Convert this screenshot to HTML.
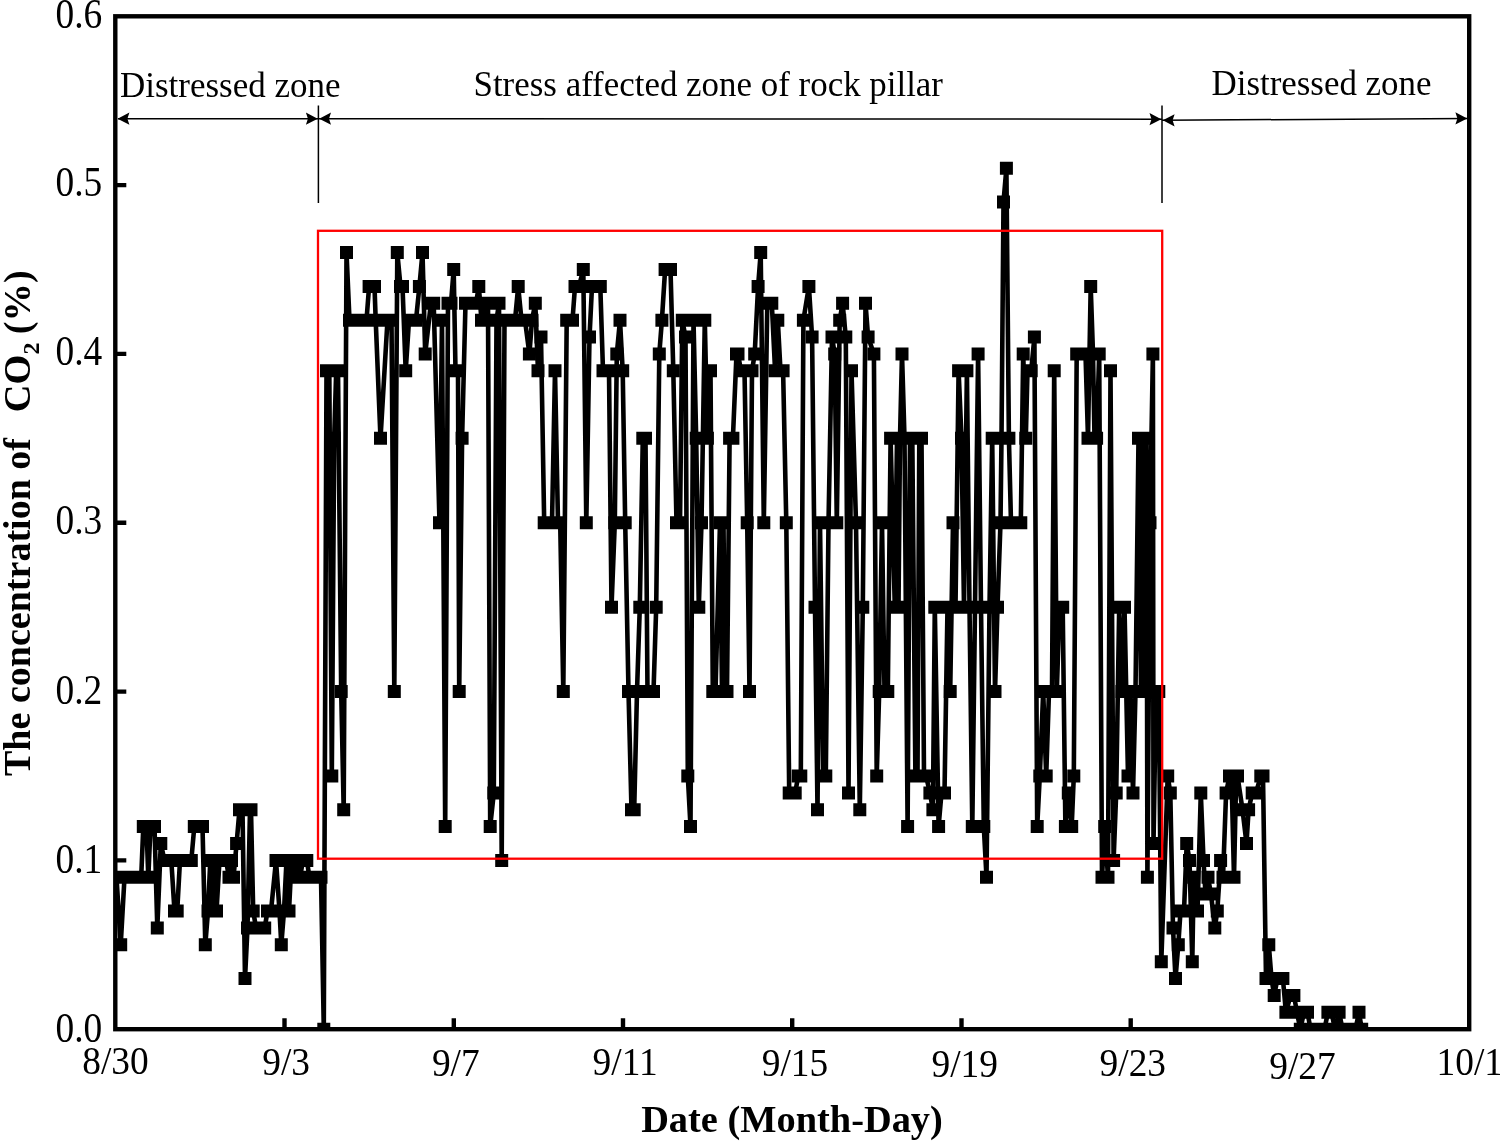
<!DOCTYPE html>
<html lang="en"><head><meta charset="utf-8"><title>CO2 concentration chart</title>
<style>html,body{margin:0;padding:0;background:#fff}svg{display:block}</style></head>
<body>
<svg width="1500" height="1141" viewBox="0 0 1500 1141">
<rect width="1500" height="1141" fill="#fff"/>
<clipPath id="c"><rect x="115.3" y="16.3" width="1353.9" height="1012.9"/></clipPath>
<g clip-path="url(#c)">
<path d="M116.5 877.3 L120.7 944.8 L124.5 877.3 L128.0 877.3 L131.5 877.3 L135.0 877.3 L138.5 877.3 L141.2 877.3 L143.3 826.6 L146.5 826.6 L148.3 877.3 L150.5 826.6 L154.5 826.6 L157.3 927.9 L160.8 843.5 L164.5 860.4 L168.0 860.4 L171.3 860.4 L174.5 911.0 L177.2 911.0 L180.0 860.4 L184.0 860.4 L188.0 860.4 L191.3 860.4 L194.3 826.6 L198.5 826.6 L202.5 826.6 L205.3 944.8 L208.0 911.0 L210.3 860.4 L212.5 911.0 L214.5 860.4 L216.5 911.0 L219.5 860.4 L223.0 860.4 L226.0 860.4 L229.0 877.3 L231.5 860.4 L233.5 877.3 L236.6 843.5 L239.5 809.7 L242.5 809.7 L245.0 978.6 L247.5 927.9 L250.0 809.7 L251.0 809.7 L253.2 911.0 L256.0 927.9 L259.0 927.9 L262.0 927.9 L264.7 927.9 L267.5 911.0 L271.0 911.0 L276.0 860.4 L279.5 911.0 L281.3 944.8 L284.0 911.0 L286.5 860.4 L289.0 911.0 L291.5 860.4 L294.0 877.3 L297.0 860.4 L300.0 877.3 L303.0 860.4 L306.8 860.4 L309.5 877.3 L313.0 877.3 L317.0 877.3 L321.0 877.3 L323.8 1029.2 L326.5 370.8 L329.3 370.8 L331.8 776.0 L334.2 438.3 L336.2 370.8 L338.0 370.8 L341.2 691.6 L343.7 809.7 L346.5 252.6 L349.5 320.2 L353.0 320.2 L356.5 320.2 L360.0 320.2 L363.5 320.2 L366.5 320.2 L369.1 286.4 L374.5 286.4 L375.7 320.2 L380.5 438.3 L387.5 320.2 L391.5 320.2 L394.3 691.6 L397.3 252.6 L400.5 286.4 L402.5 286.4 L405.7 370.8 L409.0 320.2 L412.5 320.2 L416.0 320.2 L419.4 286.4 L422.5 252.6 L425.2 353.9 L430.9 303.3 L433.7 303.3 L439.5 522.8 L442.0 320.2 L445.2 826.6 L448.0 303.3 L451.0 303.3 L453.7 269.5 L455.5 370.8 L458.0 370.8 L459.2 691.6 L462.1 438.3 L465.5 303.3 L469.0 303.3 L472.5 303.3 L476.0 303.3 L478.8 286.4 L481.5 320.2 L484.0 303.3 L486.0 320.2 L488.0 303.3 L490.2 826.6 L493.8 792.9 L496.5 320.2 L499.0 303.3 L501.7 860.4 L504.5 320.2 L508.0 320.2 L511.5 320.2 L515.0 320.2 L518.2 286.4 L521.5 320.2 L525.0 320.2 L529.4 353.9 L532.0 320.2 L535.3 303.3 L538.0 370.8 L541.0 337.1 L544.2 522.8 L548.0 522.8 L552.0 522.8 L555.0 370.8 L558.0 522.8 L560.2 522.8 L563.3 691.6 L566.7 320.2 L570.0 320.2 L572.5 320.2 L575.0 286.4 L579.0 286.4 L583.3 269.5 L586.3 522.8 L589.5 337.1 L592.0 286.4 L596.0 286.4 L600.3 286.4 L603.0 370.8 L606.0 370.8 L609.0 370.8 L611.5 607.2 L614.8 522.8 L616.8 353.9 L620.0 320.2 L622.7 370.8 L625.2 522.8 L628.5 691.6 L631.5 809.7 L634.2 809.7 L637.0 691.6 L639.8 607.2 L642.8 438.3 L645.5 438.3 L647.5 691.6 L650.5 691.6 L653.5 691.6 L656.2 607.2 L659.3 353.9 L661.9 320.2 L665.1 269.5 L670.5 269.5 L673.3 370.8 L676.5 522.8 L680.0 522.8 L682.3 320.2 L685.5 337.1 L687.8 776.0 L690.5 826.6 L693.5 320.2 L696.2 438.3 L698.8 607.2 L701.5 522.8 L704.8 320.2 L707.4 438.3 L710.5 370.8 L712.8 691.6 L715.5 691.6 L720.0 522.8 L722.0 691.6 L723.5 522.8 L725.0 691.6 L727.0 691.6 L729.6 438.3 L732.9 438.3 L736.5 353.9 L738.0 353.9 L741.0 370.8 L744.5 370.8 L747.2 522.8 L749.5 691.6 L752.0 370.8 L754.7 353.9 L758.1 286.4 L760.7 252.6 L763.8 522.8 L767.3 303.3 L771.8 303.3 L775.1 370.8 L777.8 320.2 L780.5 370.8 L783.1 370.8 L786.3 522.8 L789.2 792.9 L792.0 792.9 L795.2 792.9 L798.2 776.0 L800.8 776.0 L803.4 320.2 L808.9 286.4 L812.1 337.1 L815.0 607.2 L817.5 809.7 L820.0 522.8 L823.2 776.0 L825.8 776.0 L828.5 522.8 L832.0 337.1 L834.7 353.9 L836.8 522.8 L839.7 320.2 L842.6 303.3 L845.8 337.1 L848.5 792.9 L851.5 370.8 L856.0 522.8 L859.8 809.7 L862.8 607.2 L865.5 303.3 L868.1 337.1 L873.9 353.9 L876.7 776.0 L879.2 691.6 L882.0 522.8 L884.5 691.6 L887.8 691.6 L890.6 438.3 L894.8 607.2 L897.0 438.3 L898.5 607.2 L900.0 438.3 L902.0 353.9 L904.5 438.3 L907.6 826.6 L910.0 438.3 L912.3 438.3 L915.4 776.0 L917.5 776.0 L919.3 438.3 L921.5 438.3 L924.0 776.0 L926.1 776.0 L929.9 792.9 L932.9 809.7 L934.8 607.2 L938.6 826.6 L941.5 792.9 L944.5 792.9 L947.5 607.2 L950.2 691.6 L953.0 522.8 L955.5 607.2 L958.6 370.8 L961.5 438.3 L964.0 607.2 L966.9 370.8 L969.5 607.2 L972.3 826.6 L975.0 607.2 L978.1 353.9 L981.0 607.2 L983.8 826.6 L986.5 877.3 L989.5 607.2 L992.2 438.3 L995.0 691.6 L997.5 607.2 L1000.5 522.8 L1001.5 438.3 L1003.5 202.0 L1006.4 168.2 L1008.9 438.3 L1011.0 522.8 L1014.0 522.8 L1017.0 522.8 L1020.8 522.8 L1023.2 353.9 L1025.8 438.3 L1027.5 370.8 L1031.2 370.8 L1034.4 337.1 L1037.2 826.6 L1039.8 776.0 L1043.2 691.6 L1046.2 776.0 L1049.0 691.6 L1052.0 691.6 L1054.2 370.8 L1056.8 691.6 L1059.5 607.2 L1062.7 607.2 L1065.4 826.6 L1068.3 792.9 L1071.7 826.6 L1073.8 776.0 L1076.7 353.9 L1080.0 353.9 L1083.0 353.9 L1085.5 353.9 L1088.0 438.3 L1090.7 286.4 L1093.0 353.9 L1094.5 438.3 L1096.6 438.3 L1099.2 353.9 L1102.0 877.3 L1104.7 826.6 L1108.0 877.3 L1110.5 370.8 L1113.6 860.4 L1116.2 792.9 L1119.2 607.2 L1122.0 691.6 L1124.5 607.2 L1128.0 776.0 L1130.5 691.6 L1133.0 792.9 L1135.5 691.6 L1138.5 438.3 L1141.0 691.6 L1143.0 438.3 L1145.0 691.6 L1146.6 438.3 L1147.4 877.3 L1150.0 522.8 L1152.9 353.9 L1153.5 843.5 L1156.0 691.6 L1158.8 691.6 L1161.3 961.7 L1167.7 776.0 L1170.3 792.9 L1173.0 927.9 L1175.5 978.6 L1178.3 944.8 L1180.5 911.0 L1184.0 911.0 L1186.7 843.5 L1189.5 860.4 L1192.3 961.7 L1193.7 877.3 L1197.5 911.0 L1200.8 792.9 L1203.5 860.4 L1205.5 894.1 L1208.0 877.3 L1211.0 894.1 L1214.8 927.9 L1217.3 911.0 L1220.6 860.4 L1223.0 877.3 L1226.1 792.9 L1229.5 776.0 L1231.5 776.0 L1234.0 877.3 L1236.2 776.0 L1237.5 776.0 L1242.5 809.7 L1246.5 843.5 L1248.6 809.7 L1252.2 792.9 L1256.0 792.9 L1260.8 776.0 L1263.0 776.0 L1266.0 978.6 L1268.8 944.8 L1271.5 978.6 L1274.2 995.4 L1277.5 978.6 L1282.9 978.6 L1285.9 1012.3 L1290.6 995.4 L1293.9 995.4 L1297.0 1012.3 L1300.3 1029.2 L1304.0 1012.3 L1307.5 1012.3 L1310.5 1029.2 L1315.0 1029.2 L1320.0 1029.2 L1324.5 1029.2 L1327.9 1012.3 L1331.5 1012.3 L1335.0 1029.2 L1339.1 1012.3 L1342.5 1029.2 L1347.0 1029.2 L1351.5 1029.2 L1355.5 1029.2 L1359.0 1012.3 L1361.7 1029.2" fill="none" stroke="#000" stroke-width="4.6" stroke-linejoin="round"/>
<path d="M110.0 870.8h13v13h-13zM114.2 938.3h13v13h-13zM118.0 870.8h13v13h-13zM121.5 870.8h13v13h-13zM125.0 870.8h13v13h-13zM128.5 870.8h13v13h-13zM132.0 870.8h13v13h-13zM134.7 870.8h13v13h-13zM136.8 820.1h13v13h-13zM140.0 820.1h13v13h-13zM141.8 870.8h13v13h-13zM144.0 820.1h13v13h-13zM148.0 820.1h13v13h-13zM150.8 921.4h13v13h-13zM154.3 837.0h13v13h-13zM158.0 853.9h13v13h-13zM161.5 853.9h13v13h-13zM164.8 853.9h13v13h-13zM168.0 904.5h13v13h-13zM170.7 904.5h13v13h-13zM173.5 853.9h13v13h-13zM177.5 853.9h13v13h-13zM181.5 853.9h13v13h-13zM184.8 853.9h13v13h-13zM187.8 820.1h13v13h-13zM192.0 820.1h13v13h-13zM196.0 820.1h13v13h-13zM198.8 938.3h13v13h-13zM201.5 904.5h13v13h-13zM203.8 853.9h13v13h-13zM206.0 904.5h13v13h-13zM208.0 853.9h13v13h-13zM210.0 904.5h13v13h-13zM213.0 853.9h13v13h-13zM216.5 853.9h13v13h-13zM219.5 853.9h13v13h-13zM222.5 870.8h13v13h-13zM225.0 853.9h13v13h-13zM227.0 870.8h13v13h-13zM230.1 837.0h13v13h-13zM233.0 803.2h13v13h-13zM236.0 803.2h13v13h-13zM238.5 972.1h13v13h-13zM241.0 921.4h13v13h-13zM243.5 803.2h13v13h-13zM244.5 803.2h13v13h-13zM246.7 904.5h13v13h-13zM249.5 921.4h13v13h-13zM252.5 921.4h13v13h-13zM255.5 921.4h13v13h-13zM258.2 921.4h13v13h-13zM261.0 904.5h13v13h-13zM264.5 904.5h13v13h-13zM269.5 853.9h13v13h-13zM273.0 904.5h13v13h-13zM274.8 938.3h13v13h-13zM277.5 904.5h13v13h-13zM280.0 853.9h13v13h-13zM282.5 904.5h13v13h-13zM285.0 853.9h13v13h-13zM287.5 870.8h13v13h-13zM290.5 853.9h13v13h-13zM293.5 870.8h13v13h-13zM296.5 853.9h13v13h-13zM300.3 853.9h13v13h-13zM303.0 870.8h13v13h-13zM306.5 870.8h13v13h-13zM310.5 870.8h13v13h-13zM314.5 870.8h13v13h-13zM317.3 1022.7h13v13h-13zM320.0 364.3h13v13h-13zM322.8 364.3h13v13h-13zM325.3 769.5h13v13h-13zM327.7 431.8h13v13h-13zM329.7 364.3h13v13h-13zM331.5 364.3h13v13h-13zM334.7 685.1h13v13h-13zM337.2 803.2h13v13h-13zM340.0 246.1h13v13h-13zM343.0 313.7h13v13h-13zM346.5 313.7h13v13h-13zM350.0 313.7h13v13h-13zM353.5 313.7h13v13h-13zM357.0 313.7h13v13h-13zM360.0 313.7h13v13h-13zM362.6 279.9h13v13h-13zM368.0 279.9h13v13h-13zM369.2 313.7h13v13h-13zM374.0 431.8h13v13h-13zM381.0 313.7h13v13h-13zM385.0 313.7h13v13h-13zM387.8 685.1h13v13h-13zM390.8 246.1h13v13h-13zM394.0 279.9h13v13h-13zM396.0 279.9h13v13h-13zM399.2 364.3h13v13h-13zM402.5 313.7h13v13h-13zM406.0 313.7h13v13h-13zM409.5 313.7h13v13h-13zM412.9 279.9h13v13h-13zM416.0 246.1h13v13h-13zM418.7 347.4h13v13h-13zM424.4 296.8h13v13h-13zM427.2 296.8h13v13h-13zM433.0 516.2h13v13h-13zM435.5 313.7h13v13h-13zM438.7 820.1h13v13h-13zM441.5 296.8h13v13h-13zM444.5 296.8h13v13h-13zM447.2 263.0h13v13h-13zM449.0 364.3h13v13h-13zM451.5 364.3h13v13h-13zM452.7 685.1h13v13h-13zM455.6 431.8h13v13h-13zM459.0 296.8h13v13h-13zM462.5 296.8h13v13h-13zM466.0 296.8h13v13h-13zM469.5 296.8h13v13h-13zM472.3 279.9h13v13h-13zM475.0 313.7h13v13h-13zM477.5 296.8h13v13h-13zM479.5 313.7h13v13h-13zM481.5 296.8h13v13h-13zM483.7 820.1h13v13h-13zM487.3 786.4h13v13h-13zM490.0 313.7h13v13h-13zM492.5 296.8h13v13h-13zM495.2 853.9h13v13h-13zM498.0 313.7h13v13h-13zM501.5 313.7h13v13h-13zM505.0 313.7h13v13h-13zM508.5 313.7h13v13h-13zM511.7 279.9h13v13h-13zM515.0 313.7h13v13h-13zM518.5 313.7h13v13h-13zM522.9 347.4h13v13h-13zM525.5 313.7h13v13h-13zM528.8 296.8h13v13h-13zM531.5 364.3h13v13h-13zM534.5 330.6h13v13h-13zM537.7 516.2h13v13h-13zM541.5 516.2h13v13h-13zM545.5 516.2h13v13h-13zM548.5 364.3h13v13h-13zM551.5 516.2h13v13h-13zM553.7 516.2h13v13h-13zM556.8 685.1h13v13h-13zM560.2 313.7h13v13h-13zM563.5 313.7h13v13h-13zM566.0 313.7h13v13h-13zM568.5 279.9h13v13h-13zM572.5 279.9h13v13h-13zM576.8 263.0h13v13h-13zM579.8 516.2h13v13h-13zM583.0 330.6h13v13h-13zM585.5 279.9h13v13h-13zM589.5 279.9h13v13h-13zM593.8 279.9h13v13h-13zM596.5 364.3h13v13h-13zM599.5 364.3h13v13h-13zM602.5 364.3h13v13h-13zM605.0 600.7h13v13h-13zM608.3 516.2h13v13h-13zM610.3 347.4h13v13h-13zM613.5 313.7h13v13h-13zM616.2 364.3h13v13h-13zM618.7 516.2h13v13h-13zM622.0 685.1h13v13h-13zM625.0 803.2h13v13h-13zM627.7 803.2h13v13h-13zM630.5 685.1h13v13h-13zM633.3 600.7h13v13h-13zM636.3 431.8h13v13h-13zM639.0 431.8h13v13h-13zM641.0 685.1h13v13h-13zM644.0 685.1h13v13h-13zM647.0 685.1h13v13h-13zM649.7 600.7h13v13h-13zM652.8 347.4h13v13h-13zM655.4 313.7h13v13h-13zM658.6 263.0h13v13h-13zM664.0 263.0h13v13h-13zM666.8 364.3h13v13h-13zM670.0 516.2h13v13h-13zM673.5 516.2h13v13h-13zM675.8 313.7h13v13h-13zM679.0 330.6h13v13h-13zM681.3 769.5h13v13h-13zM684.0 820.1h13v13h-13zM687.0 313.7h13v13h-13zM689.7 431.8h13v13h-13zM692.3 600.7h13v13h-13zM695.0 516.2h13v13h-13zM698.3 313.7h13v13h-13zM700.9 431.8h13v13h-13zM704.0 364.3h13v13h-13zM706.3 685.1h13v13h-13zM709.0 685.1h13v13h-13zM713.5 516.2h13v13h-13zM715.5 685.1h13v13h-13zM717.0 516.2h13v13h-13zM718.5 685.1h13v13h-13zM720.5 685.1h13v13h-13zM723.1 431.8h13v13h-13zM726.4 431.8h13v13h-13zM730.0 347.4h13v13h-13zM731.5 347.4h13v13h-13zM734.5 364.3h13v13h-13zM738.0 364.3h13v13h-13zM740.7 516.2h13v13h-13zM743.0 685.1h13v13h-13zM745.5 364.3h13v13h-13zM748.2 347.4h13v13h-13zM751.6 279.9h13v13h-13zM754.2 246.1h13v13h-13zM757.3 516.2h13v13h-13zM760.8 296.8h13v13h-13zM765.3 296.8h13v13h-13zM768.6 364.3h13v13h-13zM771.3 313.7h13v13h-13zM774.0 364.3h13v13h-13zM776.6 364.3h13v13h-13zM779.8 516.2h13v13h-13zM782.7 786.4h13v13h-13zM785.5 786.4h13v13h-13zM788.7 786.4h13v13h-13zM791.7 769.5h13v13h-13zM794.3 769.5h13v13h-13zM796.9 313.7h13v13h-13zM802.4 279.9h13v13h-13zM805.6 330.6h13v13h-13zM808.5 600.7h13v13h-13zM811.0 803.2h13v13h-13zM813.5 516.2h13v13h-13zM816.7 769.5h13v13h-13zM819.3 769.5h13v13h-13zM822.0 516.2h13v13h-13zM825.5 330.6h13v13h-13zM828.2 347.4h13v13h-13zM830.3 516.2h13v13h-13zM833.2 313.7h13v13h-13zM836.1 296.8h13v13h-13zM839.3 330.6h13v13h-13zM842.0 786.4h13v13h-13zM845.0 364.3h13v13h-13zM849.5 516.2h13v13h-13zM853.3 803.2h13v13h-13zM856.3 600.7h13v13h-13zM859.0 296.8h13v13h-13zM861.6 330.6h13v13h-13zM867.4 347.4h13v13h-13zM870.2 769.5h13v13h-13zM872.7 685.1h13v13h-13zM875.5 516.2h13v13h-13zM878.0 685.1h13v13h-13zM881.3 685.1h13v13h-13zM884.1 431.8h13v13h-13zM888.3 600.7h13v13h-13zM890.5 431.8h13v13h-13zM892.0 600.7h13v13h-13zM893.5 431.8h13v13h-13zM895.5 347.4h13v13h-13zM898.0 431.8h13v13h-13zM901.1 820.1h13v13h-13zM903.5 431.8h13v13h-13zM905.8 431.8h13v13h-13zM908.9 769.5h13v13h-13zM911.0 769.5h13v13h-13zM912.8 431.8h13v13h-13zM915.0 431.8h13v13h-13zM917.5 769.5h13v13h-13zM919.6 769.5h13v13h-13zM923.4 786.4h13v13h-13zM926.4 803.2h13v13h-13zM928.3 600.7h13v13h-13zM932.1 820.1h13v13h-13zM935.0 786.4h13v13h-13zM938.0 786.4h13v13h-13zM941.0 600.7h13v13h-13zM943.7 685.1h13v13h-13zM946.5 516.2h13v13h-13zM949.0 600.7h13v13h-13zM952.1 364.3h13v13h-13zM955.0 431.8h13v13h-13zM957.5 600.7h13v13h-13zM960.4 364.3h13v13h-13zM963.0 600.7h13v13h-13zM965.8 820.1h13v13h-13zM968.5 600.7h13v13h-13zM971.6 347.4h13v13h-13zM974.5 600.7h13v13h-13zM977.3 820.1h13v13h-13zM980.0 870.8h13v13h-13zM983.0 600.7h13v13h-13zM985.7 431.8h13v13h-13zM988.5 685.1h13v13h-13zM991.0 600.7h13v13h-13zM994.0 516.2h13v13h-13zM995.0 431.8h13v13h-13zM997.0 195.5h13v13h-13zM999.9 161.7h13v13h-13zM1002.4 431.8h13v13h-13zM1004.5 516.2h13v13h-13zM1007.5 516.2h13v13h-13zM1010.5 516.2h13v13h-13zM1014.3 516.2h13v13h-13zM1016.7 347.4h13v13h-13zM1019.3 431.8h13v13h-13zM1021.0 364.3h13v13h-13zM1024.7 364.3h13v13h-13zM1027.9 330.6h13v13h-13zM1030.7 820.1h13v13h-13zM1033.3 769.5h13v13h-13zM1036.7 685.1h13v13h-13zM1039.7 769.5h13v13h-13zM1042.5 685.1h13v13h-13zM1045.5 685.1h13v13h-13zM1047.7 364.3h13v13h-13zM1050.3 685.1h13v13h-13zM1053.0 600.7h13v13h-13zM1056.2 600.7h13v13h-13zM1058.9 820.1h13v13h-13zM1061.8 786.4h13v13h-13zM1065.2 820.1h13v13h-13zM1067.3 769.5h13v13h-13zM1070.2 347.4h13v13h-13zM1073.5 347.4h13v13h-13zM1076.5 347.4h13v13h-13zM1079.0 347.4h13v13h-13zM1081.5 431.8h13v13h-13zM1084.2 279.9h13v13h-13zM1086.5 347.4h13v13h-13zM1088.0 431.8h13v13h-13zM1090.1 431.8h13v13h-13zM1092.7 347.4h13v13h-13zM1095.5 870.8h13v13h-13zM1098.2 820.1h13v13h-13zM1101.5 870.8h13v13h-13zM1104.0 364.3h13v13h-13zM1107.1 853.9h13v13h-13zM1109.7 786.4h13v13h-13zM1112.7 600.7h13v13h-13zM1115.5 685.1h13v13h-13zM1118.0 600.7h13v13h-13zM1121.5 769.5h13v13h-13zM1124.0 685.1h13v13h-13zM1126.5 786.4h13v13h-13zM1129.0 685.1h13v13h-13zM1132.0 431.8h13v13h-13zM1134.5 685.1h13v13h-13zM1136.5 431.8h13v13h-13zM1138.5 685.1h13v13h-13zM1140.1 431.8h13v13h-13zM1140.9 870.8h13v13h-13zM1143.5 516.2h13v13h-13zM1146.4 347.4h13v13h-13zM1147.0 837.0h13v13h-13zM1149.5 685.1h13v13h-13zM1152.3 685.1h13v13h-13zM1154.8 955.2h13v13h-13zM1161.2 769.5h13v13h-13zM1163.8 786.4h13v13h-13zM1166.5 921.4h13v13h-13zM1169.0 972.1h13v13h-13zM1171.8 938.3h13v13h-13zM1174.0 904.5h13v13h-13zM1177.5 904.5h13v13h-13zM1180.2 837.0h13v13h-13zM1183.0 853.9h13v13h-13zM1185.8 955.2h13v13h-13zM1187.2 870.8h13v13h-13zM1191.0 904.5h13v13h-13zM1194.3 786.4h13v13h-13zM1197.0 853.9h13v13h-13zM1199.0 887.6h13v13h-13zM1201.5 870.8h13v13h-13zM1204.5 887.6h13v13h-13zM1208.3 921.4h13v13h-13zM1210.8 904.5h13v13h-13zM1214.1 853.9h13v13h-13zM1216.5 870.8h13v13h-13zM1219.6 786.4h13v13h-13zM1223.0 769.5h13v13h-13zM1225.0 769.5h13v13h-13zM1227.5 870.8h13v13h-13zM1229.7 769.5h13v13h-13zM1231.0 769.5h13v13h-13zM1236.0 803.2h13v13h-13zM1240.0 837.0h13v13h-13zM1242.1 803.2h13v13h-13zM1245.7 786.4h13v13h-13zM1249.5 786.4h13v13h-13zM1254.3 769.5h13v13h-13zM1256.5 769.5h13v13h-13zM1259.5 972.1h13v13h-13zM1262.3 938.3h13v13h-13zM1265.0 972.1h13v13h-13zM1267.7 988.9h13v13h-13zM1271.0 972.1h13v13h-13zM1276.4 972.1h13v13h-13zM1279.4 1005.8h13v13h-13zM1284.1 988.9h13v13h-13zM1287.4 988.9h13v13h-13zM1290.5 1005.8h13v13h-13zM1293.8 1022.7h13v13h-13zM1297.5 1005.8h13v13h-13zM1301.0 1005.8h13v13h-13zM1304.0 1022.7h13v13h-13zM1308.5 1022.7h13v13h-13zM1313.5 1022.7h13v13h-13zM1318.0 1022.7h13v13h-13zM1321.4 1005.8h13v13h-13zM1325.0 1005.8h13v13h-13zM1328.5 1022.7h13v13h-13zM1332.6 1005.8h13v13h-13zM1336.0 1022.7h13v13h-13zM1340.5 1022.7h13v13h-13zM1345.0 1022.7h13v13h-13zM1349.0 1022.7h13v13h-13zM1352.5 1005.8h13v13h-13zM1355.2 1022.7h13v13h-13z" fill="#000"/>
</g>
<rect x="318" y="230.8" width="844.2" height="627.9" fill="none" stroke="#f00" stroke-width="2.3"/>
<rect x="115.3" y="16.3" width="1353.9" height="1012.9" fill="none" stroke="#000" stroke-width="4.4"/>
<path d="M284.5 1029.2v-11M453.8 1029.2v-11M623.0 1029.2v-11M792.2 1029.2v-11M961.5 1029.2v-11M1130.7 1029.2v-11M1300.0 1029.2v-11M115.3 860.4h11M115.3 691.6h11M115.3 522.8h11M115.3 353.9h11M115.3 185.1h11" stroke="#000" stroke-width="4.4" fill="none"/>
<g font-family="'Liberation Serif', 'Times New Roman', serif" font-size="37.4" fill="#000">
<text transform="translate(102.2,1042.1) scale(1,1.105)" text-anchor="end">0.0</text>
<text transform="translate(102.2,872.8) scale(1,1.105)" text-anchor="end">0.1</text>
<text transform="translate(102.2,703.5) scale(1,1.105)" text-anchor="end">0.2</text>
<text transform="translate(102.2,534.4) scale(1,1.105)" text-anchor="end">0.3</text>
<text transform="translate(102.2,365.3) scale(1,1.105)" text-anchor="end">0.4</text>
<text transform="translate(102.2,196.4) scale(1,1.105)" text-anchor="end">0.5</text>
<text transform="translate(102.2,27.6) scale(1,1.105)" text-anchor="end">0.6</text>
<text transform="translate(115.5,1074.0) scale(1,1.085)" text-anchor="middle">8/30</text>
<text transform="translate(286.1,1075.3) scale(1,1.085)" text-anchor="middle">9/3</text>
<text transform="translate(455.8,1076.0) scale(1,1.085)" text-anchor="middle">9/7</text>
<text transform="translate(625.1,1074.8) scale(1,1.085)" text-anchor="middle">9/11</text>
<text transform="translate(795.0,1076.0) scale(1,1.085)" text-anchor="middle">9/15</text>
<text transform="translate(964.7,1077.0) scale(1,1.085)" text-anchor="middle">9/19</text>
<text transform="translate(1132.8,1076.3) scale(1,1.085)" text-anchor="middle">9/23</text>
<text transform="translate(1302.5,1078.7) scale(1,1.085)" text-anchor="middle">9/27</text>
<text transform="translate(1436.5,1075.2) scale(1,1.085)">10/1</text>
</g>
<g font-family="'Liberation Serif', 'Times New Roman', serif" font-size="35" fill="#000">
<text x="120" y="97.3" textLength="220.5" lengthAdjust="spacingAndGlyphs">Distressed zone</text>
<text x="473.5" y="95.8" textLength="469.5" lengthAdjust="spacingAndGlyphs">Stress affected zone of rock pillar</text>
<text x="1211.5" y="95.2" textLength="220" lengthAdjust="spacingAndGlyphs">Distressed zone</text>
</g>
<g font-family="'Liberation Serif', 'Times New Roman', serif" font-size="38.4" font-weight="bold" fill="#000">
<text x="792" y="1131.8" text-anchor="middle">Date (Month-Day)</text>
<g transform="translate(29.5,0) rotate(-90)">
<text x="-776" y="0" textLength="338" lengthAdjust="spacingAndGlyphs">The concentration of</text>
<text x="-412.3" y="0">CO</text>
<text x="-354.5" y="9.7" font-size="24">2</text>
<text x="-334.2" y="0">(%)</text>
</g>
</g>
<g stroke="#000" stroke-width="1.5" fill="none">
<path d="M318.4 105.6V203M1162 105.6V203"/>
<path d="M118 118.7H318.4M318.4 118.7L1162 119.2M1162 120.3L1467.5 118.4"/>
</g>
<path d="M117.6 118.7L129.4 112.6L127.4 118.7L129.4 124.8zM317.7 118.7L305.9 112.6L307.9 118.7L305.9 124.8zM319.2 118.7L331.0 112.6L329.0 118.7L331.0 124.8zM1161.3 119.2L1149.5 113.1L1151.5 119.2L1149.5 125.3zM1162.8 120.3L1174.6 114.2L1172.6 120.3L1174.6 126.4zM1467.2 118.4L1455.4 112.3L1457.4 118.4L1455.4 124.5z" fill="#000"/>
</svg>
</body></html>
